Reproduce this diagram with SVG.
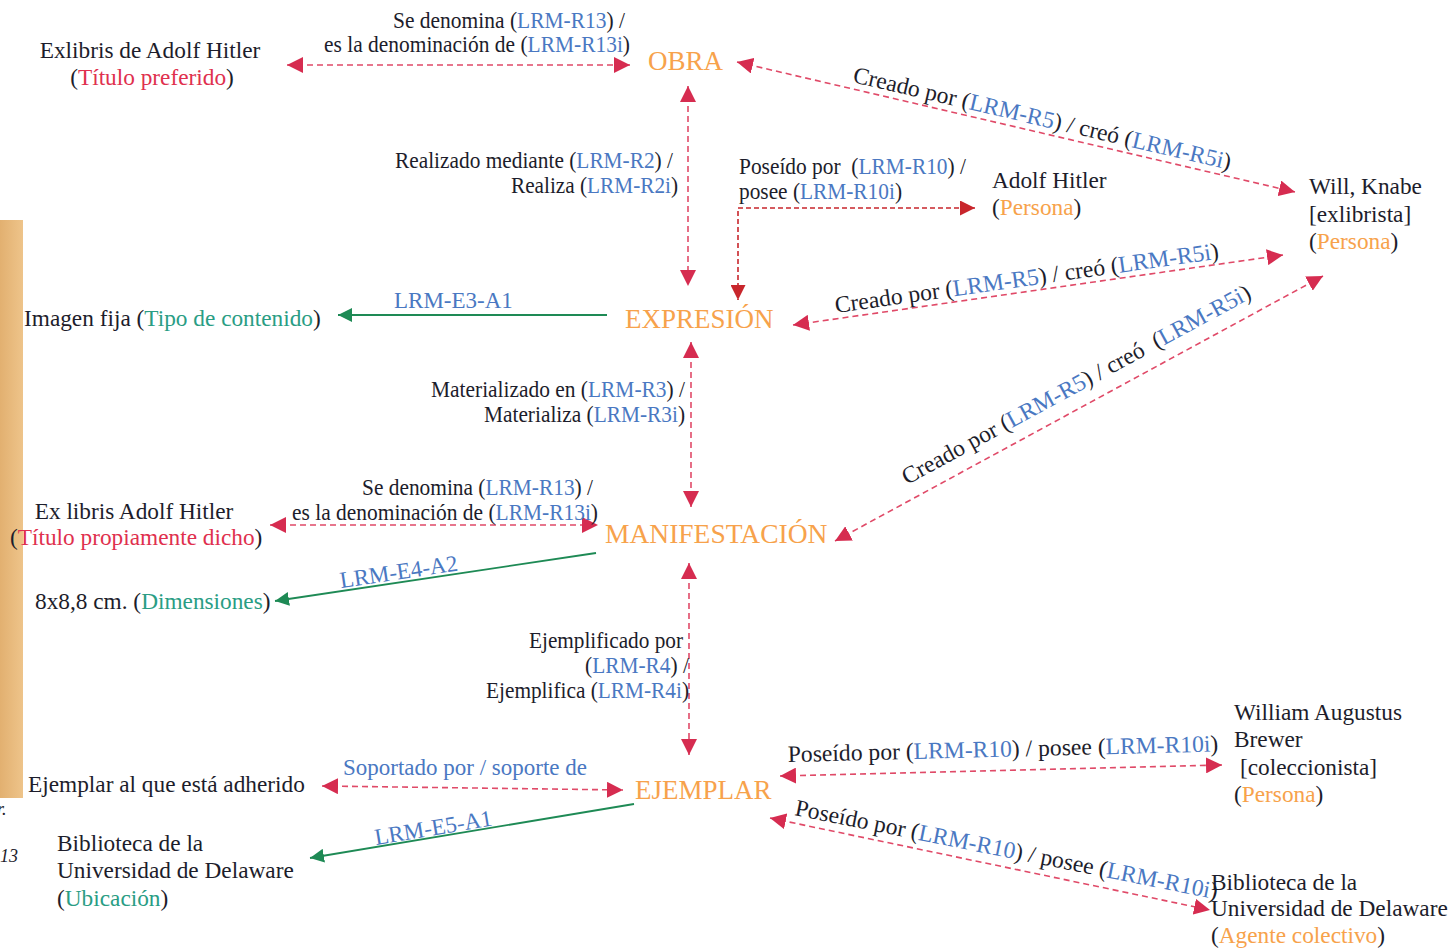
<svg xmlns="http://www.w3.org/2000/svg" width="1450" height="948" viewBox="0 0 1450 948">
<style>
text{font-family:"Liberation Serif","Times New Roman",serif;font-size:23.3px;fill:#1d1d2b}
.lbl{font-size:23px}
.rl{font-size:23.6px}
.b{fill:#4a78c2}
.r{fill:#e0304e}
.o{fill:#f7a24b}
.t{fill:#2a9d84}
.ent{font-size:27px;fill:#f7a24b}
.dr{fill:none;stroke:#e04a68;stroke-width:1.6;stroke-dasharray:6 4}
.dd{fill:none;stroke:#c8262c;stroke-width:1.6;stroke-dasharray:5 3}
.gl{fill:none;stroke:#1e8a55;stroke-width:1.8}
</style>
<defs>
<marker id="ar" viewBox="0 0 14 14" refX="14" refY="7" markerWidth="16" markerHeight="16" markerUnits="userSpaceOnUse" orient="auto-start-reverse"><path d="M0,0 L14,7 L0,14 z" fill="#d62c50"/></marker>
<marker id="ad" viewBox="0 0 14 14" refX="14" refY="7" markerWidth="15" markerHeight="15" markerUnits="userSpaceOnUse" orient="auto-start-reverse"><path d="M0,0 L14,7 L0,14 z" fill="#c8262c"/></marker>
<marker id="ag" viewBox="0 0 14 14" refX="14" refY="7" markerWidth="14" markerHeight="14" markerUnits="userSpaceOnUse" orient="auto-start-reverse"><path d="M0,0 L14,7 L0,14 z" fill="#1e8a55"/></marker>
<linearGradient id="tan" x1="0" y1="0" x2="1" y2="0"><stop offset="0" stop-color="#e2b070"/><stop offset="1" stop-color="#eec48a"/></linearGradient>
</defs>
<rect x="0" y="0" width="1450" height="948" fill="#ffffff"/>
<g id="fragment">
<rect x="0" y="220" width="23" height="578" fill="url(#tan)"/>
<text x="-3" y="815" style="font-style:italic;font-size:18px">r.</text>
<text x="0" y="862" style="font-style:italic;font-size:18px">13</text>
</g>
<g id="connectors">
<path class="dr" d="M287,65 H630" marker-start="url(#ar)" marker-end="url(#ar)"/>
<path class="dr" d="M737,62 L1295,192" marker-start="url(#ar)" marker-end="url(#ar)"/>
<path class="dr" d="M688,86 V286" marker-start="url(#ar)" marker-end="url(#ar)"/>
<path class="dd" d="M975,208 H738 V300" marker-start="url(#ad)" marker-end="url(#ad)"/>
<path class="gl" d="M607,315 H338" marker-end="url(#ag)"/>
<path class="dr" d="M793,325 L1283,255" marker-start="url(#ar)" marker-end="url(#ar)"/>
<path class="dr" d="M835,541 L1323,276" marker-start="url(#ar)" marker-end="url(#ar)"/>
<path class="dr" d="M691,342 V507" marker-start="url(#ar)" marker-end="url(#ar)"/>
<path class="dr" d="M270,525 H598" marker-start="url(#ar)" marker-end="url(#ar)"/>
<path class="gl" d="M596,553 L275,601" marker-end="url(#ag)"/>
<path class="dr" d="M689,563 V755" marker-start="url(#ar)" marker-end="url(#ar)"/>
<path class="dr" d="M322,786 L623,790" marker-start="url(#ar)" marker-end="url(#ar)"/>
<path class="gl" d="M634,804 L310,858" marker-end="url(#ag)"/>
<path class="dr" d="M780,776 L1222,765" marker-start="url(#ar)" marker-end="url(#ar)"/>
<path class="dr" d="M770,818 L1210,910" marker-start="url(#ar)" marker-end="url(#ar)"/>
<text class="lbl" x="393" y="28" textLength="232" lengthAdjust="spacingAndGlyphs">Se denomina (<tspan class="b">LRM-R13</tspan>) /</text>
<text class="lbl" x="324" y="52" textLength="306" lengthAdjust="spacingAndGlyphs">es la denominación de (<tspan class="b">LRM-R13i</tspan>)</text>
<text class="rl" x="852" y="82" transform="rotate(13.1 852 82)">Creado por (<tspan class="b">LRM-R5</tspan>) / creó (<tspan class="b">LRM-R5i</tspan>)</text>
<text class="lbl" x="395" y="168" textLength="278" lengthAdjust="spacingAndGlyphs">Realizado mediante (<tspan class="b">LRM-R2</tspan>) /</text>
<text class="lbl" x="511" y="193" textLength="167" lengthAdjust="spacingAndGlyphs">Realiza (<tspan class="b">LRM-R2i</tspan>)</text>
<text class="lbl" x="739" y="174" textLength="227" lengthAdjust="spacingAndGlyphs" xml:space="preserve">Poseído por  (<tspan class="b">LRM-R10</tspan>) /</text>
<text class="lbl" x="739" y="199" textLength="163" lengthAdjust="spacingAndGlyphs">posee (<tspan class="b">LRM-R10i</tspan>)</text>
<text class="lbl b" x="394" y="308">LRM-E3-A1</text>
<text class="rl" x="836" y="313" transform="rotate(-8.1 836 313)">Creado por (<tspan class="b">LRM-R5</tspan>) / creó (<tspan class="b">LRM-R5i</tspan>)</text>
<text class="rl" x="907" y="485" transform="rotate(-28.5 907 485)" xml:space="preserve">Creado por (<tspan class="b">LRM-R5</tspan>) / creó  (<tspan class="b">LRM-R5i</tspan>)</text>
<text class="lbl" x="431" y="397" textLength="254" lengthAdjust="spacingAndGlyphs">Materializado en (<tspan class="b">LRM-R3</tspan>) /</text>
<text class="lbl" x="484" y="422" textLength="201" lengthAdjust="spacingAndGlyphs">Materializa (<tspan class="b">LRM-R3i</tspan>)</text>
<text class="lbl" x="362" y="495" textLength="231" lengthAdjust="spacingAndGlyphs">Se denomina (<tspan class="b">LRM-R13</tspan>) /</text>
<text class="lbl" x="292" y="520" textLength="306" lengthAdjust="spacingAndGlyphs">es la denominación de (<tspan class="b">LRM-R13i</tspan>)</text>
<text class="lbl b" x="341" y="588" transform="rotate(-8.5 341 588)">LRM-E4-A2</text>
<text class="lbl" x="529" y="648" textLength="154" lengthAdjust="spacingAndGlyphs">Ejemplificado por</text>
<text class="lbl" x="585" y="673" textLength="104" lengthAdjust="spacingAndGlyphs">(<tspan class="b">LRM-R4</tspan>) /</text>
<text class="lbl" x="486" y="698" textLength="203" lengthAdjust="spacingAndGlyphs">Ejemplifica (<tspan class="b">LRM-R4i</tspan>)</text>
<text class="lbl b" x="343" y="775">Soportado por / soporte de</text>
<text class="lbl b" x="376" y="845" transform="rotate(-9.5 376 845)">LRM-E5-A1</text>
<text class="rl" x="788" y="762" transform="rotate(-1.4 788 762)">Poseído por (<tspan class="b">LRM-R10</tspan>) / posee (<tspan class="b">LRM-R10i</tspan>)</text>
<text class="rl" x="794" y="815" transform="rotate(11.3 794 815)">Poseído por (<tspan class="b">LRM-R10</tspan>) / posee (<tspan class="b">LRM-R10i</tspan>)</text>
</g>
<g id="titulo-preferido">
<text x="150" y="58" text-anchor="middle">Exlibris de Adolf Hitler</text>
<text x="152" y="85" text-anchor="middle">(<tspan class="r">Título preferido</tspan>)</text>
</g>
<g id="obra"><text class="ent" x="648" y="70">OBRA</text></g>
<g id="adolf-hitler">
<text x="992" y="188">Adolf Hitler</text>
<text x="992" y="215">(<tspan class="o">Persona</tspan>)</text>
</g>
<g id="will-knabe">
<text x="1309" y="194">Will, Knabe</text>
<text x="1309" y="222">[exlibrista]</text>
<text x="1309" y="249">(<tspan class="o">Persona</tspan>)</text>
</g>
<g id="imagen-fija"><text x="24" y="326">Imagen fija (<tspan class="t">Tipo de contenido</tspan>)</text></g>
<g id="expresion"><text class="ent" x="625" y="328">EXPRESIÓN</text></g>
<g id="manifestacion"><text class="ent" x="605" y="543" style="font-size:27.5px">MANIFESTACIÓN</text></g>
<g id="titulo-propiamente">
<text x="134" y="519" text-anchor="middle">Ex libris Adolf Hitler</text>
<text x="10" y="545">(<tspan class="r">Título propiamente dicho</tspan>)</text>
</g>
<g id="dimensiones"><text x="35" y="609">8x8,8 cm. (<tspan class="t">Dimensiones</tspan>)</text></g>
<g id="ejemplar"><text class="ent" x="635" y="799">EJEMPLAR</text></g>
<g id="ejemplar-adherido"><text x="28" y="792">Ejemplar al que está adherido</text></g>
<g id="ubicacion">
<text x="57" y="851">Biblioteca de la</text>
<text x="57" y="878">Universidad de Delaware</text>
<text x="57" y="906">(<tspan class="t">Ubicación</tspan>)</text>
</g>
<g id="william-brewer">
<text x="1234" y="720">William Augustus</text>
<text x="1234" y="747">Brewer</text>
<text x="1240" y="775">[coleccionista]</text>
<text x="1234" y="802">(<tspan class="o">Persona</tspan>)</text>
</g>
<g id="biblioteca-agente">
<text x="1211" y="890">Biblioteca de la</text>
<text x="1211" y="916">Universidad de Delaware</text>
<text x="1211" y="943">(<tspan class="o">Agente colectivo</tspan>)</text>
</g>
</svg>
